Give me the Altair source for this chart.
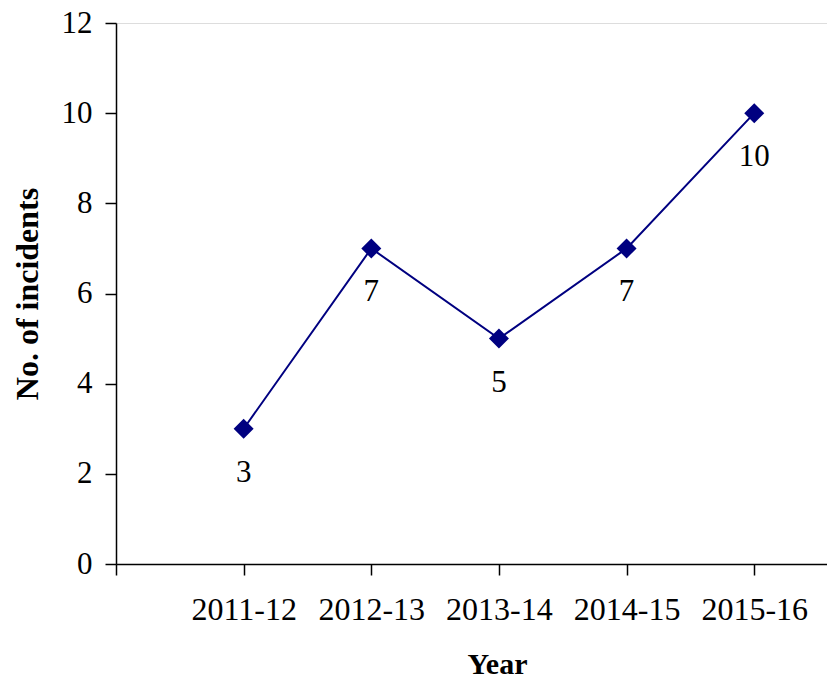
import altair as alt
import pandas as pd

years = ["2011-12", "2012-13", "2013-14", "2014-15", "2015-16"]
incidents = [3, 7, 5, 7, 10]

df = pd.DataFrame({"pos": list(range(1, len(years) + 1)), "year": years, "n": incidents})

label_expr = "datum.value == 0 ? '' : " + "[" + ",".join(f"'{y}'" for y in years) + "][datum.value - 1]"

FONT = "Liberation Serif"
NAVY = "#000080"

x = alt.X("pos:Q", scale=alt.Scale(domain=[0, 5.57], nice=False, zero=True),
          axis=alt.Axis(values=[0, 1, 2, 3, 4, 5], labelExpr=label_expr, title="Year",
                        grid=False, domainColor="black", tickColor="black", tickSize=11,
                        domainWidth=1.5, tickWidth=1.5,
                        labelFont=FONT, labelFontSize=32, labelColor="black", labelPadding=19,
                        titleFont=FONT, titleFontSize=30, titleFontWeight="bold", titleColor="black",
                        titleX=381, titleY=109, titleBaseline="alphabetic", labelFlush=False))
y = alt.Y("n:Q", scale=alt.Scale(domain=[0, 12], nice=False),
          axis=alt.Axis(values=[0, 2, 4, 6, 8, 10, 12], title="No. of incidents", grid=False,
                        domainColor="black", tickColor="black", tickSize=11,
                        domainWidth=1.5, tickWidth=1.5,
                        labelFont=FONT, labelFontSize=31, labelColor="black", labelPadding=13,
                        titleFont=FONT, titleFontSize=32, titleFontWeight="bold", titleColor="black",
                        titleX=-89, titleBaseline="middle"))

base = alt.Chart(df)
line = base.mark_line(color=NAVY, strokeWidth=2).encode(x=x, y=y)
pts = base.mark_point(shape="diamond", filled=True, color=NAVY, size=400, opacity=1).encode(x=x, y=y)
txt = base.mark_text(font=FONT, fontSize=31, color="black", dy=44, baseline="middle").encode(x=x, y=y, text="n:Q")

chart = (line + pts + txt).properties(
    width=711, height=541,
    autosize=alt.AutoSizeParams(type="none"),
    padding={"left": 116, "top": 23, "right": 0, "bottom": 114},
).configure_view(stroke=None).configure(background="white")

chart.save("out.html", embed_options={"renderer": "svg", "actions": False})
